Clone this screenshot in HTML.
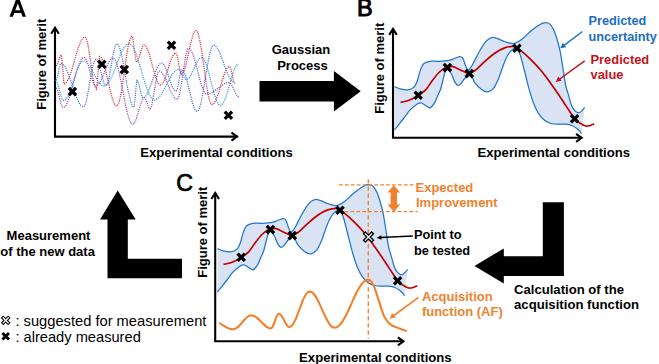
<!DOCTYPE html>
<html><head><meta charset="utf-8"><title>Bayesian optimization</title>
<style>
html,body{margin:0;padding:0;background:#fff;}
body{width:659px;height:364px;overflow:hidden;position:relative;font-family:"Liberation Sans",sans-serif;}
svg{position:absolute;left:0;top:0;}
text{font-family:"Liberation Sans",sans-serif;}
.b{font-weight:bold;font-size:13px;fill:#000;}
.big{font-size:24px;fill:#000;stroke:#000;stroke-width:0.5px;stroke-linejoin:round;}
.lg{font-size:14.5px;fill:#000;}
.dot{fill:none;stroke-width:1.25;stroke-dasharray:1.1 1.1;}
.ax{fill:none;stroke:#000;stroke-width:2.1;stroke-miterlimit:10;}
.bd{fill:none;stroke:#1e76cc;stroke-width:1.25;}
.mn{fill:none;stroke:#c00000;stroke-width:1.7;}
.or{stroke:#f0822e;fill:none;}
</style></head><body>
<svg width="659" height="364" viewBox="0 0 659 364">
<defs>
<g id="mk"><path d="M-4.80 -2.50L-2.50 -4.80L0.00 -2.30L2.50 -4.80L4.80 -2.50L2.30 0.00L4.80 2.50L2.50 4.80L0.00 2.30L-2.50 4.80L-4.80 2.50L-2.30 0.00Z" fill="#000"/></g>
<g id="gp">
<path d="M394.5 86.7C395.6 87.1 398.8 88.6 401.0 89.1C403.2 89.6 405.7 90.1 407.9 89.8C410.1 89.5 412.4 88.7 414.0 87.1C415.6 85.5 416.5 83.0 417.5 80.2C418.5 77.5 419.2 73.3 420.2 70.6C421.2 67.8 422.1 65.2 423.7 63.7C425.3 62.2 427.4 61.7 429.8 61.3C432.2 60.9 435.1 61.4 438.1 61.3C441.1 61.2 444.9 61.2 447.7 60.7C450.4 60.2 452.6 59.2 454.6 58.5C456.7 57.8 458.6 56.5 460.0 56.5C461.4 56.5 462.0 57.0 462.8 58.2C463.6 59.4 464.3 62.1 464.9 63.7C465.5 65.3 465.9 67.0 466.5 68.0C467.1 69.0 467.5 70.5 468.5 69.9C469.5 69.3 470.9 67.5 472.6 64.5C474.4 61.5 476.8 55.9 479.0 52.0C481.2 48.1 483.9 43.7 486.0 41.3C488.1 38.9 490.0 38.1 491.8 37.6C493.6 37.1 495.1 37.8 497.0 38.4C498.9 39.0 501.3 40.3 503.4 41.1C505.5 41.9 507.8 42.9 509.8 43.2C511.8 43.6 513.2 43.9 515.3 43.2C517.4 42.5 519.7 41.0 522.2 39.0C524.7 37.0 527.6 33.8 530.4 31.5C533.1 29.2 536.3 26.8 538.7 25.3C541.1 23.8 543.1 22.8 544.9 22.6C546.7 22.4 548.2 22.6 549.7 23.9C551.2 25.1 552.5 27.5 553.8 30.1C555.0 32.7 556.2 36.3 557.2 39.7C558.2 43.1 559.1 46.3 560.0 50.7C560.9 55.1 561.7 60.3 562.6 66.0C563.5 71.7 564.6 80.2 565.6 85.0C566.6 89.8 567.5 91.4 568.4 94.6C569.3 97.8 570.2 101.7 571.1 104.2C572.0 106.7 572.9 108.3 573.9 109.7C574.9 111.1 576.3 112.1 577.3 112.5C578.3 112.9 579.2 112.7 580.1 112.2C581.0 111.7 582.0 110.5 582.8 109.7C583.5 108.9 584.3 107.7 584.6 107.3L581.4 133.8C581.2 133.5 580.9 132.6 580.1 131.7C579.3 130.8 578.0 129.3 576.6 128.3C575.2 127.3 573.5 126.2 571.8 125.5C570.1 124.8 568.3 124.3 566.3 124.1C564.2 123.9 562.0 124.2 559.5 124.1C557.0 124.0 553.7 124.2 551.2 123.5C548.7 122.8 546.4 121.6 544.3 120.0C542.2 118.4 540.4 116.2 538.8 113.8C537.2 111.4 535.8 108.5 534.5 105.5C533.2 102.5 532.1 98.9 531.0 95.5C529.9 92.1 529.1 89.1 528.0 85.0C526.9 80.9 525.8 75.9 524.5 71.0C523.2 66.1 521.7 59.3 520.4 55.5C519.1 51.7 518.3 49.1 516.9 48.2C515.5 47.3 513.6 48.5 512.0 49.9C510.4 51.3 508.5 53.8 507.0 56.5C505.5 59.2 504.3 62.8 502.9 66.4C501.5 70.0 500.3 74.3 498.8 77.9C497.3 81.5 495.6 85.5 493.8 87.8C492.0 90.1 490.2 91.6 488.1 91.9C486.1 92.2 483.7 90.9 481.5 89.4C479.3 87.9 476.4 84.8 474.9 82.9C473.4 81.0 473.4 79.5 472.4 78.0C471.4 76.5 470.1 74.1 469.0 74.0C467.9 73.9 466.8 76.0 465.5 77.5C464.2 79.0 462.6 81.7 461.4 83.0C460.1 84.3 459.1 85.6 458.0 85.4C456.9 85.2 455.6 83.4 454.6 81.6C453.6 79.8 452.8 76.7 451.8 74.7C450.8 72.7 449.4 70.4 448.5 69.6C447.6 68.8 447.0 68.8 446.3 69.6C445.6 70.4 445.2 71.5 444.3 74.7C443.4 77.9 441.9 85.1 440.8 88.5C439.8 91.9 438.9 92.8 438.0 95.0C437.1 97.2 436.3 99.8 435.1 101.9C433.9 104.0 431.9 106.8 430.6 107.6C429.3 108.4 428.7 107.3 427.2 106.5C425.7 105.7 423.2 103.4 421.5 103.0C419.8 102.6 418.8 103.0 416.9 104.2C415.0 105.4 412.4 107.4 410.1 109.9C407.8 112.4 405.6 116.0 403.2 119.0C400.8 122.0 397.3 126.3 395.9 128.1C394.4 129.9 394.7 129.7 394.5 130.0Z" fill="#dae3f3"/>
<path class="bd" d="M394.5 86.7C395.6 87.1 398.8 88.6 401.0 89.1C403.2 89.6 405.7 90.1 407.9 89.8C410.1 89.5 412.4 88.7 414.0 87.1C415.6 85.5 416.5 83.0 417.5 80.2C418.5 77.5 419.2 73.3 420.2 70.6C421.2 67.8 422.1 65.2 423.7 63.7C425.3 62.2 427.4 61.7 429.8 61.3C432.2 60.9 435.1 61.4 438.1 61.3C441.1 61.2 444.9 61.2 447.7 60.7C450.4 60.2 452.6 59.2 454.6 58.5C456.7 57.8 458.6 56.5 460.0 56.5C461.4 56.5 462.0 57.0 462.8 58.2C463.6 59.4 464.3 62.1 464.9 63.7C465.5 65.3 465.9 67.0 466.5 68.0C467.1 69.0 467.5 70.5 468.5 69.9C469.5 69.3 470.9 67.5 472.6 64.5C474.4 61.5 476.8 55.9 479.0 52.0C481.2 48.1 483.9 43.7 486.0 41.3C488.1 38.9 490.0 38.1 491.8 37.6C493.6 37.1 495.1 37.8 497.0 38.4C498.9 39.0 501.3 40.3 503.4 41.1C505.5 41.9 507.8 42.9 509.8 43.2C511.8 43.6 513.2 43.9 515.3 43.2C517.4 42.5 519.7 41.0 522.2 39.0C524.7 37.0 527.6 33.8 530.4 31.5C533.1 29.2 536.3 26.8 538.7 25.3C541.1 23.8 543.1 22.8 544.9 22.6C546.7 22.4 548.2 22.6 549.7 23.9C551.2 25.1 552.5 27.5 553.8 30.1C555.0 32.7 556.2 36.3 557.2 39.7C558.2 43.1 559.1 46.3 560.0 50.7C560.9 55.1 561.7 60.3 562.6 66.0C563.5 71.7 564.6 80.2 565.6 85.0C566.6 89.8 567.5 91.4 568.4 94.6C569.3 97.8 570.2 101.7 571.1 104.2C572.0 106.7 572.9 108.3 573.9 109.7C574.9 111.1 576.3 112.1 577.3 112.5C578.3 112.9 579.2 112.7 580.1 112.2C581.0 111.7 582.0 110.5 582.8 109.7C583.5 108.9 584.3 107.7 584.6 107.3"/>
<path class="bd" d="M394.5 130.0C394.7 129.7 394.4 129.9 395.9 128.1C397.3 126.3 400.8 122.0 403.2 119.0C405.6 116.0 407.8 112.4 410.1 109.9C412.4 107.4 415.0 105.4 416.9 104.2C418.8 103.0 419.8 102.6 421.5 103.0C423.2 103.4 425.7 105.7 427.2 106.5C428.7 107.3 429.3 108.4 430.6 107.6C431.9 106.8 433.9 104.0 435.1 101.9C436.3 99.8 437.1 97.2 438.0 95.0C438.9 92.8 439.8 91.9 440.8 88.5C441.9 85.1 443.4 77.9 444.3 74.7C445.2 71.5 445.6 70.4 446.3 69.6C447.0 68.8 447.6 68.8 448.5 69.6C449.4 70.4 450.8 72.7 451.8 74.7C452.8 76.7 453.6 79.8 454.6 81.6C455.6 83.4 456.9 85.2 458.0 85.4C459.1 85.6 460.1 84.3 461.4 83.0C462.6 81.7 464.2 79.0 465.5 77.5C466.8 76.0 467.9 73.9 469.0 74.0C470.1 74.1 471.4 76.5 472.4 78.0C473.4 79.5 473.4 81.0 474.9 82.9C476.4 84.8 479.3 87.9 481.5 89.4C483.7 90.9 486.1 92.2 488.1 91.9C490.2 91.6 492.0 90.1 493.8 87.8C495.6 85.5 497.3 81.5 498.8 77.9C500.3 74.3 501.5 70.0 502.9 66.4C504.3 62.8 505.5 59.2 507.0 56.5C508.5 53.8 510.4 51.3 512.0 49.9C513.6 48.5 515.5 47.3 516.9 48.2C518.3 49.1 519.1 51.7 520.4 55.5C521.7 59.3 523.2 66.1 524.5 71.0C525.8 75.9 526.9 80.9 528.0 85.0C529.1 89.1 529.9 92.1 531.0 95.5C532.1 98.9 533.2 102.5 534.5 105.5C535.8 108.5 537.2 111.4 538.8 113.8C540.4 116.2 542.2 118.4 544.3 120.0C546.4 121.6 548.7 122.8 551.2 123.5C553.7 124.2 557.0 124.0 559.5 124.1C562.0 124.2 564.2 123.9 566.3 124.1C568.3 124.3 570.1 124.8 571.8 125.5C573.5 126.2 575.2 127.3 576.6 128.3C578.0 129.3 579.3 130.8 580.1 131.7C580.9 132.6 581.2 133.5 581.4 133.8"/>
<path class="mn" d="M400.5 102.4C401.7 102.1 405.7 101.5 407.8 100.8C409.9 100.1 411.3 99.4 413.0 98.5C414.7 97.6 416.1 96.8 418.2 95.3C420.3 93.8 423.3 92.3 425.7 89.8C428.1 87.3 430.3 83.2 432.6 80.2C434.9 77.2 437.4 74.0 439.5 72.0C441.6 70.0 443.6 68.7 444.9 67.9C446.2 67.1 446.0 67.4 447.4 67.2C448.8 67.0 450.9 66.0 453.2 66.6C455.5 67.2 459.1 69.5 461.4 70.6C463.7 71.7 465.6 72.6 466.9 73.1C468.2 73.6 468.0 74.0 469.3 73.6C470.6 73.2 472.3 72.5 474.9 70.5C477.5 68.5 481.5 64.3 484.8 61.4C488.1 58.5 491.4 55.5 494.7 53.2C498.0 51.0 501.6 49.0 504.6 47.9C507.6 46.8 510.7 46.3 512.8 46.3C514.9 46.3 515.5 47.2 517.0 48.1C518.5 49.0 520.3 50.2 522.0 51.6C523.7 53.0 525.6 54.6 527.4 56.3C529.2 58.0 531.0 59.7 533.0 61.8C535.0 63.9 537.7 66.7 539.7 69.0C541.7 71.3 543.4 73.4 545.0 75.5C546.6 77.6 548.1 79.7 549.6 81.8C551.1 83.9 552.5 85.9 554.0 88.0C555.5 90.1 557.0 92.3 558.3 94.3C559.6 96.3 560.8 97.9 562.0 99.8C563.2 101.7 564.4 103.4 565.7 105.4C567.0 107.4 568.6 109.8 570.0 112.0C571.4 114.2 572.9 116.7 574.2 118.3C575.5 119.9 576.7 120.8 578.0 121.8C579.3 122.8 580.6 123.5 581.8 124.2C583.0 124.9 584.0 125.4 585.0 125.7C586.0 126.0 587.0 126.1 588.0 126.0C589.0 125.9 590.0 125.6 591.0 125.2C592.0 124.8 593.7 124.0 594.2 123.8"/>
<use href="#mk" x="418.2" y="95.3"/>
<use href="#mk" x="447.4" y="67.6"/>
<use href="#mk" x="469.3" y="73.6"/>
<use href="#mk" x="517.0" y="48.3"/>
<use href="#mk" x="574.6" y="118.7"/>
</g>
</defs>
<rect width="659" height="364" fill="#fff"/>

<!-- Panel A -->
<path fill="#000" fill-rule="evenodd" d="M9.5 16.8L16.2 -1.2L19.3 -1.2L26 16.8L22.6 16.8L21.2 12.9L14.3 12.9L12.9 16.8ZM15.25 10.2L20.25 10.2L17.75 3.4Z"/>
<path class="ax" d="M55 27.6V136.6H237.6"/>
<path class="ax" d="M51.2 33.8L55 27.8L58.8 33.8"/>
<path class="ax" d="M231.5 132.6L237 136.6L231.5 140.6"/>
<text class="b" transform="translate(45.5,109.8) rotate(-90)">Figure of merit</text>
<text class="b" x="140.2" y="157.4" textLength="152.6" lengthAdjust="spacingAndGlyphs">Experimental conditions</text>
<path class="dot" stroke="#dc2430" d="M56.0 66.0L57.1 64.9L58.2 62.2L59.3 58.8L60.4 56.1L61.5 55.0L62.8 69.5L64.0 84.0L65.0 83.7L66.0 83.0L67.0 81.7L68.0 79.9L69.0 77.7L70.0 75.2L71.0 72.2L72.0 69.1L73.0 65.7L74.0 62.3L75.0 58.7L76.0 55.3L77.0 51.9L78.0 48.8L79.0 45.8L80.0 43.3L81.0 41.1L82.0 39.3L83.0 38.0L84.0 37.3L85.0 37.0L86.0 38.1L87.1 41.1L88.1 46.0L89.2 52.2L90.2 59.3L91.3 66.7L92.3 73.8L93.4 80.0L94.4 84.9L95.5 87.9L96.5 89.0L97.5 80.9L98.5 64.6L99.5 56.5L100.5 56.9L101.5 58.2L102.6 60.2L103.6 63.0L104.6 66.3L105.6 70.2L106.6 74.5L107.6 79.0L108.7 83.5L109.7 88.0L110.7 92.3L111.7 96.2L112.7 99.5L113.7 102.3L114.8 104.3L115.8 105.6L116.8 106.0L117.8 105.2L118.8 103.0L119.8 99.3L120.9 94.4L121.9 88.5L122.9 81.8L123.9 74.7L124.9 67.3L125.9 60.2L126.9 53.5L127.9 47.6L129.0 42.7L130.0 39.0L131.0 36.8L132.0 36.0L133.1 39.8L134.2 49.0L135.4 58.2L136.5 62.0L137.6 61.2L138.6 58.8L139.7 55.4L140.8 51.6L141.9 48.2L142.9 45.8L144.0 45.0L145.0 45.4L146.1 46.5L147.1 48.4L148.1 50.9L149.2 53.9L150.2 57.3L151.2 61.1L152.2 65.0L153.3 68.9L154.3 72.7L155.3 76.1L156.4 79.1L157.4 81.6L158.4 83.5L159.5 84.6L160.5 85.0L161.5 84.6L162.5 83.6L163.5 81.9L164.6 79.7L165.6 77.0L166.6 73.9L167.6 70.6L168.6 67.2L169.6 63.9L170.6 60.9L171.6 58.1L172.7 55.9L173.7 54.2L174.7 53.2L175.7 52.8L176.9 54.8L178.0 60.1L179.2 66.7L180.3 72.0L181.5 74.0L182.5 73.5L183.6 71.8L184.6 69.3L185.6 65.8L186.7 61.7L187.7 57.1L188.8 52.2L189.8 47.4L190.8 42.8L191.9 38.7L192.9 35.2L193.9 32.7L195.0 31.0L196.0 30.5L197.0 31.2L198.0 33.3L199.0 36.7L200.0 41.4L201.0 47.0L202.0 53.4L203.0 60.3L204.0 67.5L205.0 74.8L206.0 81.7L207.0 88.1L208.0 93.7L209.0 98.4L210.0 101.8L211.0 103.9L212.0 104.6L213.0 104.3L214.1 103.3L215.1 101.7L216.1 99.6L217.1 97.0L218.2 94.0L219.2 90.7L220.2 87.3L221.3 83.7L222.3 80.3L223.3 77.0L224.4 74.0L225.4 71.4L226.4 69.3L227.4 67.7L228.5 66.7L229.5 66.4L230.6 68.1L231.7 72.5L232.8 77.9L233.9 82.3L235.0 84.0"/>
<path class="dot" stroke="#8a44c4" d="M56.0 88.0L57.0 89.0L58.0 91.7L59.0 95.6L60.0 100.0L61.0 103.9L62.0 106.6L63.0 107.6L64.0 107.3L65.0 106.5L66.0 105.1L67.0 103.2L68.0 100.9L69.0 98.2L70.0 95.1L71.0 91.7L72.0 88.1L73.0 84.4L74.0 80.7L75.0 77.0L76.0 73.4L77.0 70.0L78.0 66.9L79.0 64.2L80.0 61.9L81.0 60.0L82.0 58.6L83.0 57.8L84.0 57.5L85.0 58.0L86.0 59.4L87.0 61.7L88.0 64.6L89.0 68.1L90.0 71.8L91.0 75.4L92.0 78.9L93.0 81.8L94.0 84.1L95.0 85.5L96.0 86.0L97.0 85.8L98.0 85.1L99.0 83.9L100.0 82.3L101.0 80.4L102.0 78.2L103.0 75.8L104.0 73.3L105.0 70.7L106.0 68.2L107.0 65.8L108.0 63.6L109.0 61.7L110.0 60.1L111.0 58.9L112.0 58.2L113.0 58.0L114.0 58.5L115.1 59.8L116.1 62.0L117.1 65.0L118.2 68.7L119.2 73.0L120.3 77.8L121.3 83.0L122.3 88.4L123.4 93.9L124.4 99.3L125.4 104.5L126.5 109.3L127.5 113.6L128.6 117.3L129.6 120.3L130.6 122.5L131.7 123.8L132.7 124.3L133.8 123.8L134.8 122.2L135.9 119.7L137.0 116.6L138.1 112.9L139.1 109.2L140.2 105.5L141.3 102.4L142.4 99.9L143.4 98.3L144.5 97.8L145.6 98.9L146.7 101.7L147.7 105.1L148.8 107.9L149.9 109.0L150.9 107.9L151.9 104.6L152.9 99.5L153.9 93.3L155.0 86.7L156.0 80.5L157.0 75.4L158.0 72.1L159.0 71.0L160.0 71.2L161.0 71.9L162.0 72.9L163.0 74.3L164.1 76.1L165.1 78.1L166.1 80.3L167.1 82.7L168.1 85.1L169.1 87.6L170.1 90.0L171.1 92.2L172.1 94.2L173.2 96.0L174.2 97.4L175.2 98.4L176.2 99.1L177.2 99.3L178.2 98.3L179.3 95.2L180.3 90.5L181.3 84.4L182.4 77.4L183.4 70.1L184.5 63.1L185.5 57.0L186.5 52.3L187.6 49.2L188.6 48.2L189.6 48.5L190.6 49.6L191.6 51.3L192.6 53.6L193.7 56.4L194.7 59.6L195.7 63.3L196.7 67.1L197.7 71.1L198.7 75.1L199.7 78.9L200.7 82.5L201.7 85.8L202.8 88.6L203.8 90.9L204.8 92.6L205.8 93.7L206.8 94.0L207.8 93.9L208.8 93.8L209.8 93.5L210.8 93.1L211.8 92.6L212.9 92.0L213.9 91.4L214.9 90.7L215.9 89.9L216.9 89.1L217.9 88.3L218.9 87.5L219.9 86.7L220.9 85.9L221.9 85.2L222.9 84.6L224.0 84.0L225.0 83.5L226.0 83.1L227.0 82.8L228.0 82.7L229.0 82.6L230.0 83.0L231.0 84.0L232.0 85.6L233.0 87.6L234.0 89.8L235.0 92.0L236.0 94.0L237.0 95.6L238.0 96.6L239.0 97.0"/>
<path class="dot" stroke="#3c6cd8" d="M56.0 80.0L57.0 78.4L58.0 74.3L59.0 69.2L60.0 65.1L61.0 63.5L62.0 63.7L63.0 64.4L64.1 65.5L65.1 66.9L66.1 68.8L67.1 71.0L68.1 73.4L69.1 76.2L70.2 79.1L71.2 82.1L72.2 85.1L73.2 88.2L74.2 91.2L75.3 94.1L76.3 96.9L77.3 99.3L78.3 101.5L79.3 103.4L80.3 104.8L81.4 105.9L82.4 106.6L83.4 106.8L84.5 106.0L85.5 103.6L86.6 99.8L87.6 94.8L88.7 89.1L89.7 82.9L90.8 76.7L91.8 71.0L92.8 66.0L93.9 62.2L95.0 59.8L96.0 59.0L97.0 59.6L98.0 61.5L99.0 64.5L100.0 68.2L101.0 72.2L102.0 76.3L103.0 80.0L104.0 83.0L105.0 84.9L106.0 85.5L107.1 84.5L108.2 81.5L109.2 76.9L110.3 71.1L111.4 64.6L112.5 58.1L113.6 52.3L114.6 47.7L115.7 44.7L116.8 43.7L117.8 44.2L118.8 45.8L119.8 48.4L120.8 52.0L121.9 56.3L122.9 61.2L123.9 66.7L124.9 72.4L125.9 78.3L126.9 84.0L127.9 89.5L128.9 94.4L130.0 98.7L131.0 102.3L132.0 104.9L133.0 106.5L134.0 107.0L135.0 100.4L136.0 87.1L137.0 80.5L138.0 81.7L139.0 84.9L140.0 89.2L141.0 93.6L142.0 96.8L143.0 98.0L144.0 97.7L145.1 96.9L146.1 95.7L147.2 93.9L148.2 91.7L149.2 89.2L150.3 86.5L151.3 83.5L152.3 80.5L153.4 77.5L154.4 74.5L155.5 71.8L156.5 69.3L157.5 67.1L158.6 65.3L159.6 64.1L160.7 63.3L161.7 63.0L162.7 63.4L163.8 64.4L164.8 66.1L165.8 68.3L166.8 71.0L167.9 74.0L168.9 77.1L169.9 80.2L171.0 83.2L172.0 85.9L173.0 88.1L174.0 89.8L175.1 90.8L176.1 91.2L177.3 89.2L178.4 83.9L179.6 77.3L180.7 72.0L181.9 70.0L182.9 70.5L183.9 71.8L184.9 74.0L185.9 76.8L186.9 80.3L187.9 84.3L188.9 88.5L190.0 92.9L191.0 97.1L192.0 101.0L193.0 104.6L194.0 107.4L195.0 109.6L196.0 110.9L197.0 111.4L198.0 110.8L199.1 108.9L200.1 105.8L201.2 101.7L202.2 96.7L203.2 91.0L204.3 84.8L205.3 78.3L206.3 71.8L207.4 65.6L208.4 59.9L209.4 54.9L210.5 50.8L211.5 47.7L212.6 45.8L213.6 45.2L214.6 45.4L215.6 46.1L216.7 47.2L217.7 48.7L218.7 50.6L219.7 52.8L220.7 55.2L221.8 57.9L222.8 60.7L223.8 63.6L224.8 66.5L225.8 69.3L226.9 72.0L227.9 74.4L228.9 76.6L229.9 78.5L230.9 80.0L232.0 81.1L233.0 81.8L234.0 82.0"/>
<path class="dot" stroke="#2c94dc" d="M55.5 80.0L56.5 80.8L57.5 83.0L58.5 86.4L59.5 90.3L60.6 94.2L61.6 97.6L62.6 99.8L63.6 100.6L64.6 100.3L65.7 99.5L66.7 98.2L67.8 96.4L68.8 94.2L69.9 91.6L70.9 88.8L71.9 85.7L73.0 82.4L74.0 79.2L75.1 75.9L76.1 72.8L77.1 70.0L78.2 67.4L79.2 65.2L80.3 63.4L81.3 62.1L82.4 61.3L83.4 61.0L84.4 61.2L85.5 61.6L86.5 62.4L87.5 63.4L88.6 64.7L89.6 66.2L90.6 67.8L91.6 69.6L92.7 71.5L93.7 73.5L94.7 75.5L95.8 77.4L96.8 79.2L97.8 80.8L98.8 82.3L99.9 83.6L100.9 84.6L101.9 85.4L103.0 85.8L104.0 86.0L105.0 85.8L106.0 85.3L107.0 84.5L108.0 83.4L109.0 82.0L110.0 80.3L111.0 78.3L112.0 76.2L113.0 73.9L114.0 71.4L115.0 68.8L116.0 66.2L117.0 63.5L118.0 60.9L119.0 58.3L120.0 55.8L121.0 53.5L122.0 51.4L123.0 49.4L124.0 47.7L125.0 46.3L126.0 45.2L127.0 44.4L128.0 43.9L129.0 43.7L130.0 43.9L131.0 44.6L132.0 45.7L133.1 47.2L134.1 49.1L135.1 51.3L136.1 53.9L137.1 56.8L138.1 59.9L139.2 63.2L140.2 66.6L141.2 70.1L142.2 73.6L143.2 77.1L144.2 80.5L145.3 83.8L146.3 86.9L147.3 89.8L148.3 92.4L149.3 94.6L150.3 96.5L151.4 98.0L152.4 99.1L153.4 99.8L154.4 100.0L155.4 99.9L156.4 99.5L157.5 98.8L158.5 97.9L159.5 96.8L160.5 95.5L161.5 94.0L162.5 92.3L163.6 90.5L164.6 88.6L165.6 86.6L166.6 84.6L167.6 82.6L168.6 80.6L169.7 78.7L170.7 76.9L171.7 75.2L172.7 73.7L173.7 72.4L174.7 71.3L175.8 70.4L176.8 69.7L177.8 69.3L178.8 69.2L179.9 69.7L181.0 71.1L182.1 73.2L183.1 75.5L184.2 77.6L185.3 79.0L186.4 79.5L187.4 79.3L188.4 78.6L189.4 77.4L190.4 75.9L191.4 74.0L192.4 71.9L193.4 69.7L194.5 67.4L195.5 65.2L196.5 63.1L197.5 61.2L198.5 59.7L199.5 58.5L200.5 57.8L201.5 57.6L202.6 58.0L203.6 59.0L204.7 60.8L205.7 63.2L206.8 66.1L207.8 69.5L208.8 73.3L209.9 77.3L210.9 81.4L212.0 85.6L213.1 89.6L214.1 93.4L215.2 96.8L216.2 99.7L217.2 102.1L218.3 103.9L219.3 104.9L220.4 105.3L221.4 105.0L222.4 104.1L223.4 102.5L224.4 100.5L225.5 97.9L226.5 95.0L227.5 91.7L228.5 88.2L229.5 84.7L230.5 81.1L231.5 77.6L232.5 74.3L233.5 71.4L234.6 68.8L235.6 66.8L236.6 65.2L237.6 64.3L238.6 64.0"/>
<use href="#mk" x="72.4" y="91.6"/>
<use href="#mk" x="101.9" y="64.2"/>
<use href="#mk" x="124.3" y="69.6"/>
<use href="#mk" x="171.5" y="45.3"/>
<use href="#mk" x="228.4" y="115.3"/>

<!-- Gaussian process arrow -->
<text class="b" x="301" y="54.3" text-anchor="middle">Gaussian</text>
<text class="b" x="302.5" y="69.9" text-anchor="middle">Process</text>
<path d="M259.5 81H333.9V71.1L360.7 91.3L333.9 111.6V101.5H259.5Z" fill="#000"/>

<!-- Panel B -->
<text class="big" x="356.9" y="16.4" style="stroke-width:1px;font-size:23.4px">B</text>
<use href="#gp"/>
<path class="ax" d="M393 28.7V137.8H582.2"/>
<path class="ax" d="M389.2 34.9L393 28.9L396.8 34.9"/>
<path class="ax" d="M576.1 133.8L581.6 137.8L576.1 141.8"/>
<text class="b" transform="translate(383.8,113.8) rotate(-90)">Figure of merit</text>
<text class="b" x="477.5" y="157.4" textLength="152.6" lengthAdjust="spacingAndGlyphs">Experimental conditions</text>
<text class="b" x="588.5" y="24.6" style="fill:#1a6ec2;font-size:12.7px">Predicted</text>
<text class="b" x="588.5" y="40.5" style="fill:#1a6ec2;font-size:12.7px">uncertainty</text>
<text class="b" x="590.5" y="64.2" style="fill:#c4121a;font-size:12.9px">Predicted</text>
<text class="b" x="590.5" y="79.2" style="fill:#c4121a;font-size:12.9px">value</text>
<path d="M582.4 31.5L562.5 46.6" stroke="#1a6ec2" stroke-width="1.4" fill="none"/>
<path d="M560.3 48.3L562.8 42.8L566.2 47.2Z" fill="#1a6ec2"/>
<path d="M584.7 60.9L558 80.2" stroke="#c4121a" stroke-width="1.4" fill="none"/>
<path d="M555.7 81.9L558.2 76.4L561.6 80.8Z" fill="#c4121a"/>

<!-- Panel C -->
<text class="big" x="176.3" y="191.4" style="stroke-width:0.7px;font-size:23.2px">C</text>
<use href="#gp" transform="translate(-177,162)"/>
<path class="or" stroke-width="2.1" stroke-linecap="round" d="M220.1 323.4C220.7 323.8 222.4 325.0 223.5 325.7C224.6 326.4 225.8 327.1 226.9 327.6C228.0 328.1 229.0 328.5 230.0 328.8C231.0 329.1 232.2 329.3 233.0 329.3C233.8 329.3 234.4 329.2 235.0 328.9C235.7 328.6 236.4 328.2 237.1 327.7C237.8 327.2 238.5 326.5 239.1 325.8C239.8 325.1 240.5 324.3 241.2 323.6C241.9 322.8 242.5 321.9 243.2 321.1C243.9 320.4 244.6 319.6 245.3 318.9C245.9 318.2 246.6 317.5 247.3 317.0C248.0 316.5 248.7 316.1 249.4 315.8C250.0 315.5 250.7 315.4 251.4 315.4C252.1 315.4 252.7 315.5 253.4 315.7C254.0 315.9 254.7 316.2 255.3 316.6C256.0 317.0 256.6 317.5 257.3 318.1C257.9 318.6 258.6 319.2 259.2 319.9C259.9 320.5 260.5 321.2 261.2 321.8C261.9 322.5 262.5 323.2 263.2 323.8C263.8 324.5 264.5 325.1 265.1 325.6C265.8 326.2 266.4 326.7 267.1 327.1C267.7 327.5 268.4 327.8 269.0 328.0C269.7 328.2 270.3 328.6 271.0 328.3C271.7 328.0 272.3 327.4 272.9 326.2C273.6 324.9 274.2 322.7 274.9 321.0C275.5 319.3 276.2 317.1 276.9 315.8C277.5 314.6 278.1 313.8 278.8 313.7C279.5 313.6 280.2 314.2 280.9 315.0C281.6 315.7 282.3 317.0 283.0 318.3C283.7 319.5 284.4 321.1 285.1 322.3C285.8 323.6 286.5 324.9 287.2 325.6C287.9 326.4 288.6 326.8 289.3 326.9C290.0 327.0 290.7 326.6 291.3 326.0C292.0 325.5 292.7 324.6 293.4 323.5C294.0 322.5 294.7 321.1 295.4 319.6C296.1 318.2 296.7 316.4 297.4 314.7C298.1 313.0 298.8 311.1 299.5 309.2C300.1 307.4 300.8 305.5 301.5 303.8C302.2 302.1 302.8 300.3 303.5 298.9C304.2 297.4 304.9 296.0 305.5 295.0C306.2 293.9 306.9 293.0 307.6 292.5C308.2 291.9 308.9 291.6 309.6 291.6C310.3 291.6 311.0 291.8 311.7 292.2C312.4 292.6 313.1 293.2 313.8 294.0C314.5 294.8 315.2 295.8 315.9 296.9C316.5 298.0 317.2 299.3 317.9 300.6C318.6 301.9 319.3 303.4 320.0 304.9C320.7 306.4 321.4 308.0 322.1 309.6C322.8 311.2 323.5 312.8 324.2 314.3C324.9 315.8 325.6 317.3 326.3 318.6C327.0 319.9 327.7 321.2 328.4 322.3C329.0 323.4 329.7 324.4 330.4 325.2C331.1 326.0 331.8 326.6 332.5 327.0C333.2 327.4 333.9 327.6 334.6 327.6C335.3 327.6 335.9 327.5 336.6 327.2C337.2 326.9 337.9 326.5 338.6 326.0C339.2 325.4 339.9 324.8 340.5 324.0C341.2 323.2 341.9 322.3 342.5 321.3C343.2 320.3 343.9 319.2 344.5 318.1C345.2 316.9 345.8 315.6 346.5 314.3C347.2 313.0 347.8 311.6 348.5 310.2C349.1 308.8 349.8 307.3 350.5 305.8C351.1 304.4 351.8 302.8 352.4 301.4C353.1 299.9 353.8 298.4 354.4 297.0C355.1 295.6 355.7 294.2 356.4 292.9C357.1 291.6 357.7 290.3 358.4 289.1C359.0 288.0 359.7 286.9 360.4 285.9C361.0 284.9 361.7 284.0 362.4 283.2C363.0 282.4 363.7 281.8 364.3 281.2C365.0 280.7 365.7 280.3 366.3 280.0C367.0 279.7 367.5 279.4 368.3 279.6C369.1 279.8 370.1 280.1 371.0 281.2C371.9 282.3 372.7 283.2 374.0 286.4C375.3 289.5 377.1 295.5 378.6 300.1C380.1 304.7 381.9 310.7 383.1 313.8C384.3 316.9 384.9 317.5 385.8 319.0C386.8 320.5 387.6 321.7 388.8 322.9C390.0 324.1 391.5 325.2 393.0 326.0C394.5 326.8 396.4 327.3 397.9 327.9C399.4 328.5 400.6 328.9 402.0 329.4C403.4 329.9 405.5 330.6 406.2 330.9"/>
<path class="or" stroke-width="1.4" stroke-dasharray="3.7 2.2" d="M339 184.9H413.2"/>
<path class="or" stroke-width="1.4" stroke-dasharray="3.7 2.2" d="M344.6 211.6H417.5"/>
<path class="or" stroke-width="1.35" stroke-dasharray="4.4 2.8" d="M368.3 179.2V338.5"/>
<path d="M393.8 185.3L400.2 192.4H397V204.6H400.2L393.8 211.7L387.4 204.6H390.6V192.4H387.4Z" fill="#f0822e"/>
<path class="ax" d="M215.2 192.8V341.3H404"/>
<path class="ax" d="M211.4 199L215.2 193L219 199"/>
<path class="ax" d="M397.9 337.3L403.4 341.3L397.9 345.3"/>
<text class="b" transform="translate(206.7,277.8) rotate(-90)">Figure of merit</text>
<text class="b" x="299.1" y="361.9" textLength="152.6" lengthAdjust="spacingAndGlyphs">Experimental conditions</text>
<text class="b" x="415.5" y="191.6" style="fill:#f0822e;font-size:13px">Expected</text>
<text class="b" x="416" y="207.3" style="fill:#f0822e;font-size:13px">Improvement</text>
<text class="b" x="413.9" y="239.2" style="font-size:12.8px">Point to</text>
<text class="b" x="413.9" y="254.6" style="font-size:12.8px">be tested</text>
<text class="b" x="421.9" y="300.6" style="fill:#f0822e;font-size:13px">Acquisition</text>
<text class="b" x="421.9" y="316" style="fill:#f0822e;font-size:13px">function (AF)</text>
<path d="M418.5 297.3L392.5 316.5" stroke="#f0822e" stroke-width="1.6" fill="none"/>
<path d="M389.6 318.8L392.2 313.1L395.8 317.6Z" fill="#f0822e"/>
<!-- hollow marker -->
<g transform="translate(368.5,237)"><path d="M-5.00 -3.20L-3.20 -5.00L0.00 -1.80L3.20 -5.00L5.00 -3.20L1.80 0.00L5.00 3.20L3.20 5.00L0.00 1.80L-3.20 5.00L-5.00 3.20L-1.80 0.00Z" fill="#fff" stroke="#000" stroke-width="1.3" stroke-linejoin="miter"/></g>
<path d="M412.8 236.1L380.5 237.5" stroke="#000" stroke-width="1.5" fill="none"/>
<path d="M376.6 237.7L381.3 235.3L381.5 239.7Z" fill="#000"/>

<!-- right L arrow -->
<path d="M542.8 202.2H563.9V276H503.8V283.4L474.5 265.9L503.8 248.4V256.2H542.8Z" fill="#000"/>
<text class="b" x="514" y="293.8" textLength="110" lengthAdjust="spacingAndGlyphs">Calculation of the</text>
<text class="b" x="514" y="309.3" textLength="125" lengthAdjust="spacingAndGlyphs">acquisition function</text>

<!-- left L arrow -->
<path d="M117.7 190.5L135.7 219.4H127.8V258.7H182V278.2H107.5V219.4H100Z" fill="#000"/>
<text class="b" x="48.5" y="240.1" text-anchor="middle">Measurement</text>
<text class="b" x="47.6" y="255.9" text-anchor="middle">of the new data</text>

<!-- legend -->
<g transform="translate(5.7,320.4)"><path d="M-4.15 -2.45L-2.45 -4.15L0.00 -1.70L2.45 -4.15L4.15 -2.45L1.70 0.00L4.15 2.45L2.45 4.15L0.00 1.70L-2.45 4.15L-4.15 2.45L-1.70 0.00Z" fill="#fff" stroke="#000" stroke-width="1.05"/></g>
<g transform="translate(5.7,336.2) scale(0.9)"><use href="#mk"/></g>
<text class="lg" x="15.4" y="326.1" textLength="191" lengthAdjust="spacingAndGlyphs">: suggested for measurement</text>
<text class="lg" x="15.4" y="342.4" textLength="125.4" lengthAdjust="spacingAndGlyphs">: already measured</text>
</svg>
</body></html>
